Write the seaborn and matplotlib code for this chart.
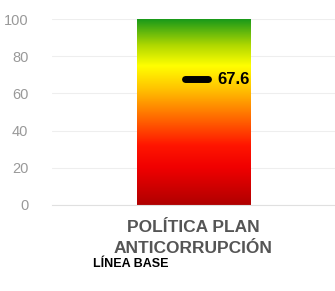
import numpy as np
import pandas as pd
import matplotlib
matplotlib.use("Agg")
import matplotlib.pyplot as plt
import seaborn as sns
from matplotlib.colors import LinearSegmentedColormap

# Data
categories = ["POLÍTICA PLAN\nANTICORRUPCIÓN"]
scale_max = [100]
baseline = [67.6]
yticks = [0, 20, 40, 60, 80, 100]

df = pd.DataFrame({"cat": categories, "max": scale_max, "base": baseline})

sns.set_style("white")
plt.rcParams["font.family"] = ["Liberation Sans", "DejaVu Sans"]
fig = plt.figure(figsize=(3.35, 2.91), dpi=100)
ax = fig.add_axes([52 / 335, 1 - 205 / 291, 283 / 335, 186 / 291])

sns.barplot(data=df, x="cat", y="max", color="white", width=0.4, ax=ax)

# gradient fill clipped to the bar
cmap = LinearSegmentedColormap.from_list(
    "semaforo",
    [(0.0, "#b00000"), (0.2, "#f00000"), (0.32, "#ff1500"), (0.48, "#ff7000"),
     (0.62, "#ffc000"), (0.75, "#ffff00"), (0.86, "#b0d800"), (1.0, "#1a9a1a")])
bar = ax.patches[0]
x0, w = bar.get_x(), bar.get_width()
grad = np.linspace(0, 1, 256).reshape(-1, 1)
im = ax.imshow(grad, cmap=cmap, aspect="auto", origin="lower",
               extent=[x0, x0 + w, 0, bar.get_height()], zorder=2)
im.set_clip_path(bar)
bar.set_edgecolor("none")

# baseline marker
ax.plot([-0.03, 0.05], [baseline[0], baseline[0]], color="black", lw=5,
        solid_capstyle="round", zorder=3)
ax.text(0.085, baseline[0], f"{baseline[0]:.1f}", va="center", ha="left",
        fontsize=12, fontweight="bold", color="black", zorder=3)

ax.set_xlim(-0.5, 0.5)
ax.set_ylim(0, 100)
ax.set_yticks(yticks)
ax.set_yticklabels([str(t) for t in yticks], color="#999999", fontsize=10.5)
ax.tick_params(axis="y", length=0, pad=17)
ax.tick_params(axis="x", length=0, pad=11)
ax.set_xticks([0])
ax.set_xticklabels(categories, fontsize=12.5, fontweight="bold",
                   color="#555555", linespacing=1.45)
ax.grid(axis="y", color="#eeeeee", lw=0.8, zorder=0)
ax.set_axisbelow(True)
ax.set_xlabel("")
ax.set_ylabel("")
for s in ["top", "right", "left"]:
    ax.spines[s].set_visible(False)
ax.spines["bottom"].set_color("#e0e0e0")

fig.text(93 / 335, 1 - 264 / 291, "LÍNEA BASE", fontsize=9,
         fontweight="bold", color="black", va="center", ha="left")

fig.savefig("out.png", dpi=100)
